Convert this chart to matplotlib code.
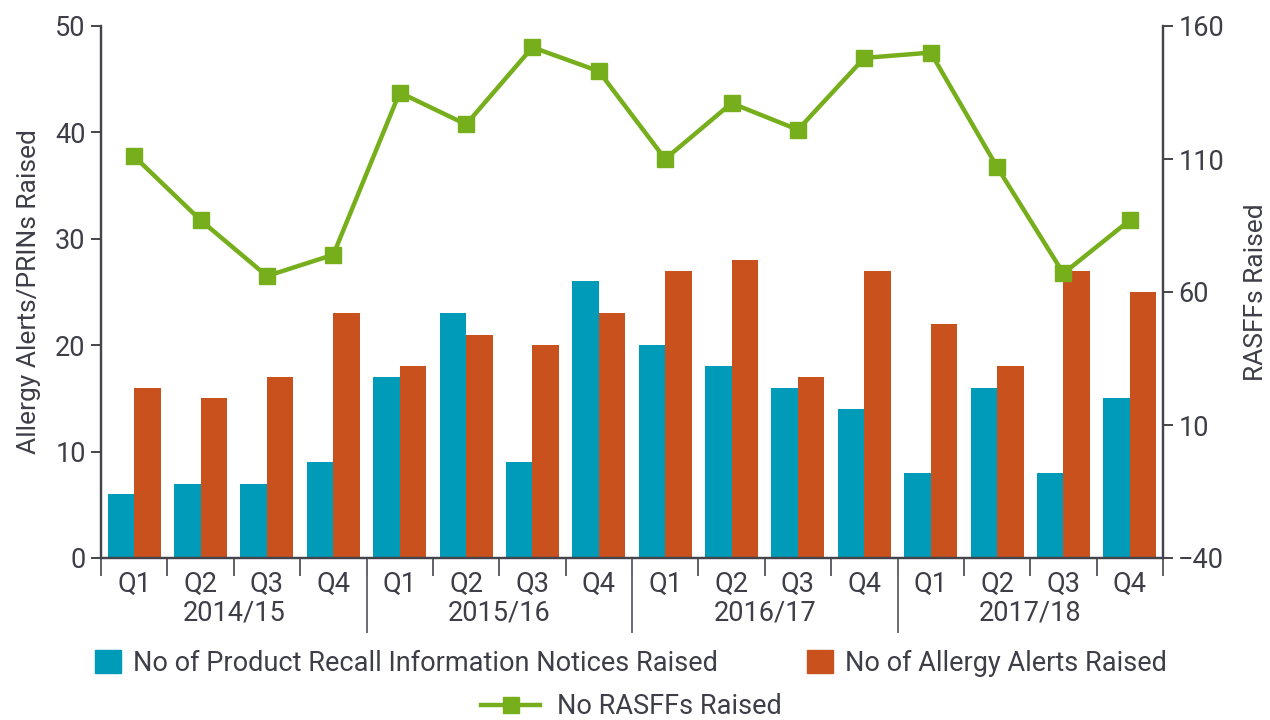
import matplotlib
matplotlib.use("Agg")
import matplotlib.pyplot as plt
import matplotlib.transforms as mtransforms
from matplotlib.patches import Patch
from matplotlib.lines import Line2D
import numpy as np

years = ["2014/15", "2015/16", "2016/17", "2017/18"]
quarters = ["Q1", "Q2", "Q3", "Q4"]
prins = [6, 7, 7, 9, 17, 23, 9, 26, 20, 18, 16, 14, 8, 16, 8, 15]
alerts = [16, 15, 17, 23, 18, 21, 20, 23, 27, 28, 17, 27, 22, 18, 27, 25]
rasffs = [111, 87, 66, 74, 135, 123, 152, 143, 110, 131, 121, 148, 150, 107, 67, 87]

TEAL = "#009BB8"
ORANGE = "#C8511D"
GREEN = "#76AE1C"
TXT = "#3E3E48"
SP = "#44444C"

plt.rcParams['font.family'] = ['Roboto', 'DejaVu Sans']

fig = plt.figure(figsize=(12.7, 7.2), dpi=100)
ax = fig.add_axes([101/1270, 1-558/720, (1163-101)/1270, (558-26)/720])
ax2 = ax.twinx()

n = len(prins)
x = np.arange(n)
w = 0.4
ax.bar(x - w/2, prins, width=w, color=TEAL, zorder=2)
ax.bar(x + w/2, alerts, width=w, color=ORANGE, zorder=2)
ax2.plot(x, rasffs, color=GREEN, lw=3.2, marker="s", markersize=11, zorder=3)

ax.set_xlim(-0.5, n - 0.5)
ax.set_ylim(0, 50)
ax2.set_ylim(-40, 160)
ax.set_yticks([0, 10, 20, 30, 40, 50])
ax2.set_yticks([-40, 10, 60, 110, 160])

for a in (ax, ax2):
    a.spines['top'].set_visible(False)
    for s in ('left', 'right', 'bottom'):
        a.spines[s].set_color(SP)
        a.spines[s].set_linewidth(1.6)

ax.tick_params(axis='y', length=7, width=1.4, color=SP, labelsize=19.5, labelcolor=TXT, pad=4)
ax2.tick_params(axis='y', length=7, width=1.4, color=SP, labelsize=19.5, labelcolor=TXT, pad=4)

labels = [q for _ in years for q in quarters]
ax.set_xticks(x)
ax.set_xticklabels(labels)
ax.tick_params(axis='x', which='major', length=0, labelsize=19.5, labelcolor=TXT, pad=9)
ax.set_xticks(np.arange(-0.5, n, 1.0), minor=True)
ax.tick_params(axis='x', which='minor', length=13, width=1.2, color=SP, direction='out')

trans = mtransforms.blended_transform_factory(ax.transData, ax.transAxes)
nq = len(quarters)
for i, yname in enumerate(years):
    cx = i * nq + (nq - 1) / 2
    ax.text(cx, -0.104, yname, transform=trans, ha='center', va='center',
            fontsize=19.5, color=TXT)
    if i > 0:
        bx = i * nq - 0.5
        ax.plot([bx, bx], [0, -0.14], transform=trans, color="#6A6A72",
                lw=1.4, clip_on=False, zorder=5)

ax.set_ylabel("Allergy Alerts/PRINs Raised", fontsize=19, color=TXT, labelpad=10)
ax2.set_ylabel("RASFFs Raised", fontsize=19, color=TXT, labelpad=14)

h1 = [Patch(color=TEAL), Patch(color=ORANGE)]
l1 = ["No of Product Recall Information Notices Raised", "No of Allergy Alerts Raised"]
leg1 = fig.legend(h1, l1, loc='center', bbox_to_anchor=(0.497, 1-663/720), ncol=2,
                  frameon=False, fontsize=19.5, handlelength=0.95, handleheight=0.95,
                  columnspacing=3.3, handletextpad=0.45, labelcolor=TXT)
h2 = [Line2D([], [], color=GREEN, lw=3.2, marker='s', markersize=11)]
leg2 = fig.legend(h2, ["No RASFFs Raised"], loc='center', bbox_to_anchor=(0.497, 1-707/720),
                  frameon=False, fontsize=19.5, handlelength=2.2, handletextpad=0.6,
                  labelcolor=TXT)

fig.savefig("out.png", dpi=100)
